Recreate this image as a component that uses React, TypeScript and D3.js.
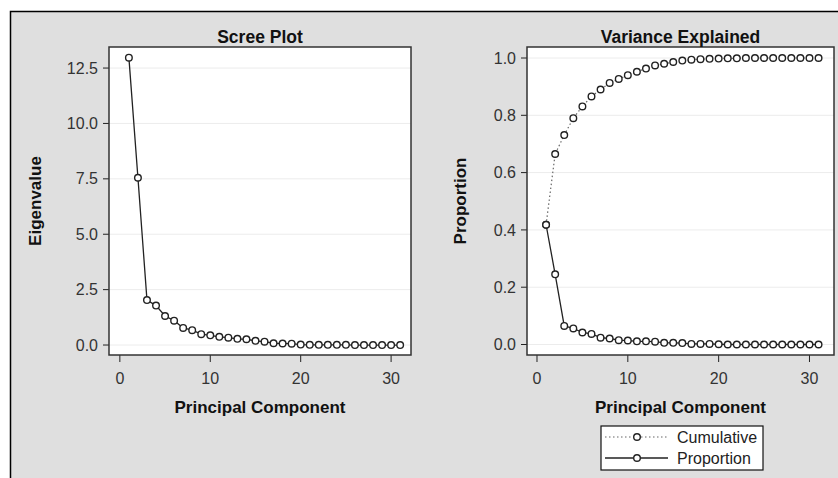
import React, { useEffect, useRef } from "react"
import * as d3 from "d3"

const W = 838
const H = 478

// principal components 1..31
const components = d3.range(1, 32)
const eigenvalues = [
  12.97, 7.55, 2.03, 1.78, 1.31, 1.1, 0.77, 0.67, 0.49, 0.44, 0.37, 0.33, 0.28, 0.26, 0.19, 0.15,
  0.08, 0.07, 0.06, 0.02, 0.01, 0.01, 0.01, 0.01, 0.01, 0.0, 0.0, 0.0, 0.0, 0.0, 0.0,
]
const proportion = [
  0.418, 0.245, 0.065, 0.056, 0.042, 0.037, 0.024, 0.021, 0.015, 0.014, 0.011, 0.011, 0.01, 0.006,
  0.006, 0.005, 0.002, 0.002, 0.002, 0.001, 0.0, 0.0, 0.0, 0.0, 0.0, 0.0, 0.0, 0.0, 0.0, 0.0, 0.0,
]
const cumulative = [
  0.418, 0.665, 0.731, 0.79, 0.831, 0.866, 0.89, 0.913, 0.927, 0.94, 0.952, 0.963, 0.974, 0.98,
  0.986, 0.991, 0.994, 0.996, 0.997, 0.998, 0.999, 0.999, 1.0, 1.0, 1.0, 1.0, 1.0, 1.0, 1.0, 1.0, 1.0,
]
const xTicks = [0, 10, 20, 30]
const screeTicks = [0, 2.5, 5, 7.5, 10, 12.5]
const propTicks = [0, 0.2, 0.4, 0.6, 0.8, 1.0]
const legendItems = ["Cumulative", "Proportion"]

const FONT = "'Liberation Sans', Arial, sans-serif"
const BG = "#dfdfdf"
const INK = "#222"

function drawPanel(svg, opt) {
  const { left, right, top, bottom, xDom, yDom, yTicks, fmt, title, ylab, ylabX } = opt
  const x = d3.scaleLinear().domain(xDom).range([left, right])
  const y = d3.scaleLinear().domain(yDom).range([bottom, top])
  const g = svg.append("g")

  g.append("rect")
    .attr("x", left)
    .attr("y", top)
    .attr("width", right - left)
    .attr("height", bottom - top)
    .attr("fill", "#fff")

  // horizontal grid
  g.selectAll(".grid")
    .data(yTicks)
    .join("line")
    .attr("x1", left)
    .attr("x2", right)
    .attr("y1", (d) => y(d))
    .attr("y2", (d) => y(d))
    .attr("stroke", "#ececec")
    .attr("stroke-width", 1)

  // y ticks + labels
  g.selectAll(".yt")
    .data(yTicks)
    .join("line")
    .attr("x1", left - 6)
    .attr("x2", left)
    .attr("y1", (d) => y(d))
    .attr("y2", (d) => y(d))
    .attr("stroke", INK)
  g.selectAll(".yl")
    .data(yTicks)
    .join("text")
    .attr("x", left - 11)
    .attr("y", (d) => y(d))
    .attr("dy", "0.35em")
    .attr("text-anchor", "end")
    .attr("font-size", 16)
    .attr("fill", "#333")
    .text((d) => fmt(d))

  // x ticks + labels
  g.selectAll(".xt")
    .data(xTicks)
    .join("line")
    .attr("x1", (d) => x(d))
    .attr("x2", (d) => x(d))
    .attr("y1", bottom)
    .attr("y2", bottom + 7)
    .attr("stroke", INK)
  g.selectAll(".xl")
    .data(xTicks)
    .join("text")
    .attr("x", (d) => x(d))
    .attr("y", bottom + 29)
    .attr("text-anchor", "middle")
    .attr("font-size", 16)
    .attr("fill", "#333")
    .text((d) => d)

  g.append("rect")
    .attr("x", left)
    .attr("y", top)
    .attr("width", right - left)
    .attr("height", bottom - top)
    .attr("fill", "none")
    .attr("stroke", "#333")
    .attr("stroke-width", 1.5)

  g.append("text")
    .attr("x", (left + right) / 2)
    .attr("y", top - 4)
    .attr("text-anchor", "middle")
    .attr("font-size", 17.5)
    .attr("font-weight", "bold")
    .attr("fill", "#111")
    .text(title)

  g.append("text")
    .attr("x", (left + right) / 2)
    .attr("y", 413)
    .attr("text-anchor", "middle")
    .attr("font-size", 17)
    .attr("font-weight", "bold")
    .attr("fill", "#111")
    .text("Principal Component")

  g.append("text")
    .attr("transform", `translate(${ylabX},${(top + bottom) / 2}) rotate(-90)`)
    .attr("dy", "0.35em")
    .attr("text-anchor", "middle")
    .attr("font-size", 17)
    .attr("font-weight", "bold")
    .attr("fill", "#111")
    .text(ylab)

  return { x, y, g }
}

function addSeries(g, x, y, values, dashed) {
  const line = d3
    .line()
    .x((d, i) => x(components[i]))
    .y((d) => y(d))
  g.append("path")
    .attr("d", line(values))
    .attr("fill", "none")
    .attr("stroke", dashed ? "#666" : INK)
    .attr("stroke-width", dashed ? 1.2 : 1.3)
    .attr("stroke-dasharray", dashed ? "1.5,2.5" : null)
  g.selectAll(null)
    .data(values)
    .join("circle")
    .attr("cx", (d, i) => x(components[i]))
    .attr("cy", (d) => y(d))
    .attr("r", 3.3)
    .attr("fill", "#fff")
    .attr("stroke", INK)
    .attr("stroke-width", 1.4)
}

export default function App() {
  const ref = useRef(null)

  useEffect(() => {
    const svg = d3.select(ref.current)
    svg.selectAll("*").remove()

    svg.append("rect").attr("width", W).attr("height", H).attr("fill", "#fff")
    svg.append("rect").attr("x", 10).attr("y", 11).attr("width", W).attr("height", H).attr("fill", BG)
    svg.append("path")
      .attr("d", `M10.5,${H}V11.5H${W}`)
      .attr("fill", "none")
      .attr("stroke", "#000")
      .attr("stroke-width", 1.5)

    // scree plot
    const p1 = drawPanel(svg, {
      left: 109,
      right: 411,
      top: 47,
      bottom: 355,
      xDom: [-1.2, 32.2],
      yDom: [-0.45, 13.45],
      yTicks: screeTicks,
      fmt: d3.format(".1f"),
      title: "Scree Plot",
      ylab: "Eigenvalue",
      ylabX: 35,
    })
    addSeries(p1.g, p1.x, p1.y, eigenvalues, false)

    // variance explained
    const p2 = drawPanel(svg, {
      left: 527,
      right: 834,
      top: 47,
      bottom: 355,
      xDom: [-1.1, 32.7],
      yDom: [-0.0366, 1.0384],
      yTicks: propTicks,
      fmt: d3.format(".1f"),
      title: "Variance Explained",
      ylab: "Proportion",
      ylabX: 460,
    })
    addSeries(p2.g, p2.x, p2.y, cumulative, true)
    addSeries(p2.g, p2.x, p2.y, proportion, false)

    // legend
    const lg = svg.append("g")
    lg.append("rect")
      .attr("x", 601)
      .attr("y", 426)
      .attr("width", 162)
      .attr("height", 44)
      .attr("fill", "#fff")
      .attr("stroke", "#111")
      .attr("stroke-width", 1.2)
    legendItems.forEach((name, i) => {
      const cy = 437 + i * 21
      const dashed = name === "Cumulative"
      lg.append("line")
        .attr("x1", 605)
        .attr("x2", 668)
        .attr("y1", cy)
        .attr("y2", cy)
        .attr("stroke", dashed ? "#666" : INK)
        .attr("stroke-width", dashed ? 1.2 : 1.3)
        .attr("stroke-dasharray", dashed ? "1.5,2.5" : null)
      lg.append("circle")
        .attr("cx", 637)
        .attr("cy", cy)
        .attr("r", 3.3)
        .attr("fill", "#fff")
        .attr("stroke", INK)
        .attr("stroke-width", 1.4)
      lg.append("text")
        .attr("x", 677)
        .attr("y", cy)
        .attr("dy", "0.35em")
        .attr("font-size", 16)
        .attr("fill", "#222")
        .text(name)
    })
  }, [])

  return (
    <svg
      ref={ref}
      width={W}
      height={H}
      style={{ position: "absolute", left: 0, top: 0, fontFamily: FONT }}
    />
  )
}
